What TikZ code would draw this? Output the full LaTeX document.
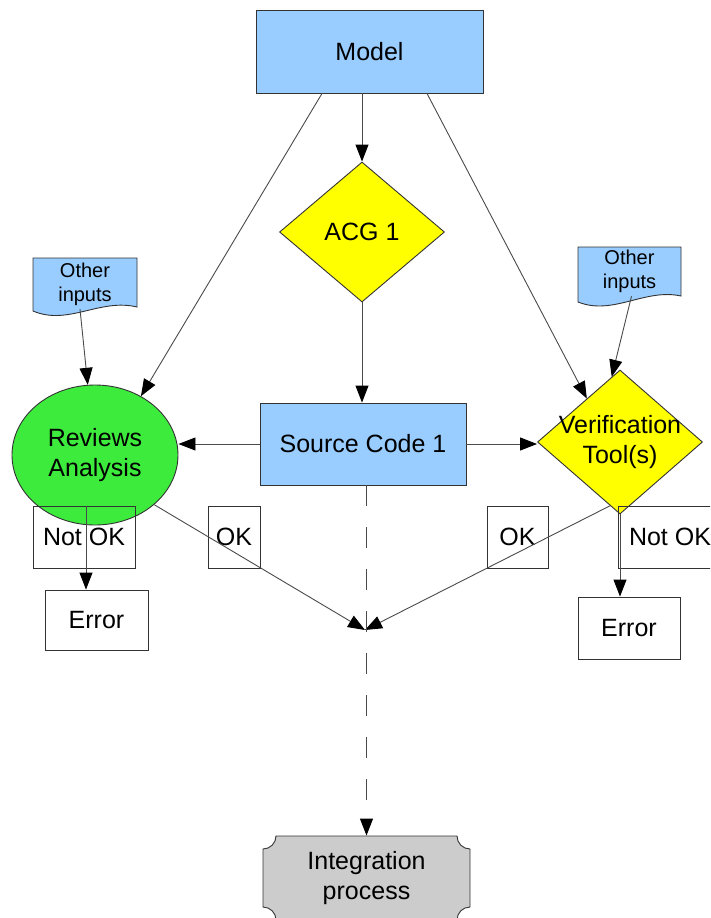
\documentclass[tikz,border=0pt]{standalone}
\usepackage{fontspec}
\setmainfont{Liberation Sans}
\usetikzlibrary{shapes.geometric,arrows.meta,calc}
\definecolor{boxblue}{HTML}{99CCFF}
\definecolor{revgreen}{HTML}{3DEB3D}
\definecolor{ymark}{HTML}{FFFF00}
\definecolor{procgray}{HTML}{CCCCCC}
\definecolor{edge}{HTML}{333333}
\definecolor{wire}{HTML}{4A4A4A}
\newcommand\labfont{\fontsize{25}{30}\selectfont}
\newcommand\notefont{\fontsize{20}{24}\selectfont}
\begin{document}
\begin{tikzpicture}[x=1pt,y=-1pt,
  shapebox/.style={draw=edge, line width=0.9pt, inner sep=0pt, font=\labfont, align=center},
  notebox/.style={font=\notefont, align=center, inner sep=0pt},
  wirearrow/.style={draw=wire, line width=0.9pt, -{Triangle[length=17pt,width=13pt,color=black]}},
  outline/.style={draw=edge, line width=0.9pt},
]
\path[use as bounding box] (0,0) rectangle (710,918);
\clip (0,0) rectangle (710,918);

% main blocks
\node[shapebox, fill=boxblue, minimum width=227, minimum height=83] (model) at (369.5,51.5) {Model};
\node[shapebox, diamond, fill=ymark, minimum width=165, minimum height=140,
      label={[font=\labfont]center:ACG 1}] (acg) at (362,232) {};
\node[shapebox, fill=boxblue, minimum width=206, minimum height=82] (src) at (363,444) {Source Code 1};
\node[shapebox, ellipse, fill=revgreen, minimum width=166, minimum height=140] (rev) at (95,455) {Reviews\\Analysis};
\node[shapebox, diamond, fill=ymark, minimum width=165, minimum height=144,
      label={[font=\labfont, align=center]center:Verification\\Tool(s)}] (ver) at (620,442) {};

% document-shaped inputs
\path[outline, fill=boxblue] (33,258) -- (137,258) -- (137,307)
  .. controls (100,298) and (68,326) .. (33,311) -- cycle;
\node[notebox, minimum width=104, minimum height=50] (oinL) at (85,284) {Other\\inputs};
\path[outline, fill=boxblue] (578,247) -- (681,247) -- (681,296)
  .. controls (645,288) and (613,316) .. (578,302) -- cycle;
\node[notebox, minimum width=103, minimum height=50] (oinR) at (629.5,271) {Other\\inputs};

% outcome labels and error boxes
\node[shapebox, minimum width=102, minimum height=62] (notL) at (84,537) {Not OK};
\node[shapebox, minimum width=52, minimum height=62] (okL) at (234,537) {OK};
\node[shapebox, minimum width=61, minimum height=62] (okR) at (517.5,537) {OK};
\node[shapebox, minimum width=104, minimum height=62] (notR) at (670,537) {Not OK};
\node[shapebox, minimum width=103, minimum height=60] (errL) at (96.5,620) {Error};
\node[shapebox, minimum width=102, minimum height=62] (errR) at (629,628) {Error};

% integration process (concave corners)
\path[outline, fill=procgray] (263,849) .. controls (270.2,849) and (276,843.2) .. (276,836)
  -- (457,836) .. controls (457,843.2) and (462.8,849) .. (470,849)
  -- (470,907) .. controls (462.8,907) and (457,912.8) .. (457,920)
  -- (276,920) .. controls (276,912.8) and (270.2,907) .. (263,907) -- cycle;
\node[shapebox, draw=none, minimum width=207, minimum height=84] (integ) at (366.5,878) {Integration\\process};

\coordinate (merge) at (365,630);

% connectors
\draw[wirearrow] (acg.north |- model.south) -- (acg.north);
\draw[wirearrow] ([xshift=-47.5pt]model.south) -- (rev.52);
\draw[wirearrow] ([xshift=57.5pt]model.south) -- ($(ver.north)!0.4!(ver.west)$);
\draw[wirearrow] (acg.south) -- (acg.south |- src.north);
\draw[wirearrow] (src.west) -- (src.west -| rev.east);
\draw[wirearrow] (src.east) -- (src.east -| ver.west);
\draw[wirearrow] ([xshift=-5pt]oinL.south) -- (rev);
\draw[wirearrow] ([xshift=2pt]oinR.south) -- ($(ver.north)!0.1!(ver.west)$);
\draw[wirearrow] ([xshift=2pt]notL.north) -- ([xshift=2pt]notL.north |- errL.north);
\draw[wirearrow] (ver.south) -- (ver.south |- errR.north);
\draw[wirearrow] (rev.-40) -- (merge);
\draw[wirearrow] ($(ver.south)!0.12!(ver.west)$) -- (merge);
\draw[wirearrow, dash pattern=on 21pt off 21pt] (integ.north |- src.south) -- (integ.north);
\end{tikzpicture}
\end{document}
